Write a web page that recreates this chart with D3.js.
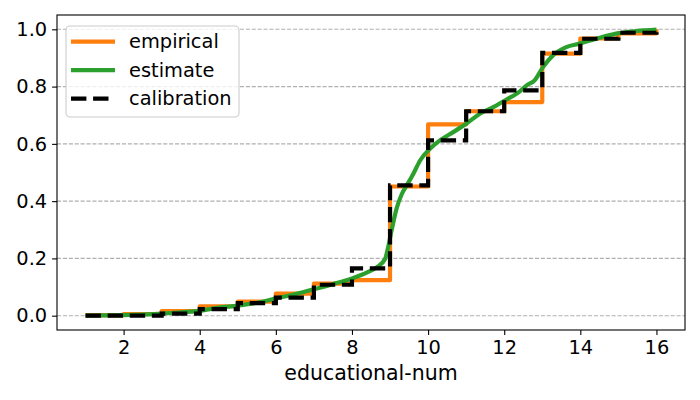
<!DOCTYPE html>
<html><head><meta charset="utf-8">
<script src="https://cdn.jsdelivr.net/npm/d3@7"></script>
<style>body{margin:0;background:#fff}svg{display:block;font-family:"DejaVu Sans",sans-serif}</style>
</head><body><svg id="c" width="700" height="400"></svg>
<script>
const categories = [1,2,3,4,5,6,7,8,9,10,11,12,13,14,15,16];
const empirical = [0.002,0.006,0.016,0.033,0.049,0.077,0.112,0.124,0.451,0.668,0.714,0.746,0.915,0.968,0.986,1.0];
const calibration = [0.0,0.0,0.007,0.023,0.044,0.063,0.108,0.165,0.455,0.612,0.714,0.787,0.918,0.967,0.988,0.99];
const estimateX = [1,1.5,2,2.5,3,3.5,4,4.5,5,5.5,6,6.5,7,7.5,8,8.4,8.65,8.87,8.95,9.04,9.17,9.31,9.44,9.61,9.79,10.05,10.31,10.66,11.0,11.36,11.71,12.06,12.36,12.6,12.8,13.02,13.28,13.63,13.98,14.42,14.94,15.47,16.0];
const estimateY = [0,0.001,0.002,0.004,0.007,0.012,0.017,0.028,0.035,0.045,0.060,0.075,0.092,0.110,0.130,0.151,0.169,0.198,0.239,0.297,0.373,0.425,0.455,0.495,0.542,0.583,0.612,0.641,0.670,0.705,0.728,0.755,0.778,0.805,0.822,0.868,0.909,0.938,0.950,0.967,0.985,0.994,0.999];
const xTicks = [2,4,6,8,10,12,14,16];
const yTicks = [0,0.2,0.4,0.6,0.8,1.0];
const seriesNames = ["empirical","estimate","calibration"];
const colors = {empirical:"#ff7f0e", estimate:"#2ca02c", calibration:"#000000"};

const svg = d3.select("#c");
const L=57, R=685, T=15, B=330;
const x = d3.scaleLinear().domain([0.25,16.75]).range([L,R]);
const y = d3.scaleLinear().domain([-0.05,1.05]).range([B,T]);
const FS = 19.4;

// grid
svg.append("g").selectAll("line").data(yTicks).join("line")
  .attr("x1",L).attr("x2",R).attr("y1",d=>y(d)).attr("y2",d=>y(d))
  .attr("stroke","#b0b0b0").attr("stroke-width",1.1).attr("stroke-dasharray","4.1,1.8");

const clip = svg.append("clipPath").attr("id","clp").append("rect").attr("x",L).attr("y",T).attr("width",R-L).attr("height",B-T);
const plot = svg.append("g").attr("clip-path","url(#clp)");

const stepLine = d3.line().x(d=>x(d[0])).y(d=>y(d[1])).curve(d3.curveStepAfter);
plot.append("path").datum(categories.map((c,i)=>[c,empirical[i]]))
  .attr("d",stepLine).attr("fill","none").attr("stroke",colors.empirical).attr("stroke-width",4.17).attr("stroke-linejoin","round");
plot.append("path").datum(estimateX.map((c,i)=>[c,estimateY[i]]))
  .attr("d",d3.line().x(d=>x(d[0])).y(d=>y(d[1])).curve(d3.curveMonotoneX))
  .attr("fill","none").attr("stroke",colors.estimate).attr("stroke-width",4.17).attr("stroke-linejoin","round");
plot.append("path").datum(categories.map((c,i)=>[c,calibration[i]]))
  .attr("d",stepLine).attr("fill","none").attr("stroke",colors.calibration).attr("stroke-width",4.17)
  .attr("stroke-dasharray","15.4,6.7");

// axes
const xa = svg.append("g").attr("transform",`translate(0,${B})`)
  .call(d3.axisBottom(x).tickValues(xTicks).tickSize(4.9).tickPadding(4.9).tickFormat(d3.format("d")));
const ya = svg.append("g").attr("transform",`translate(${L},0)`)
  .call(d3.axisLeft(y).tickValues(yTicks).tickSize(4.9).tickPadding(4.9).tickFormat(d3.format(".1f")));
[xa,ya].forEach(a=>{a.select(".domain").remove();a.selectAll("line").attr("stroke","#000").attr("stroke-width",1.1);
  a.selectAll("text").attr("font-size",FS).attr("font-family","DejaVu Sans").attr("fill","#000");});
svg.append("rect").attr("x",L).attr("y",T).attr("width",R-L).attr("height",B-T).attr("fill","none").attr("stroke","#000").attr("stroke-width",1.1);

svg.append("text").attr("x",(L+R)/2).attr("y",380).attr("text-anchor","middle").attr("font-size",20.5).text("educational-num");

// legend
const lg = svg.append("g");
lg.append("rect").attr("x",66).attr("y",26).attr("width",173).attr("height",91).attr("rx",4)
  .attr("fill","#fff").attr("fill-opacity",0.8).attr("stroke","#cccccc").attr("stroke-width",1.1);
seriesNames.forEach((n,i)=>{
  const yy = 41.7 + i*28.5;
  lg.append("line").attr("x1",71).attr("x2",115).attr("y1",yy).attr("y2",yy).attr("stroke",colors[n]).attr("stroke-width",4.17)
    .attr("stroke-dasharray", n==="calibration"?"15.4,6.7":null);
  lg.append("text").attr("x",129).attr("y",yy).attr("dy","0.35em").attr("font-size",FS).text(n);
});
</script></body></html>
